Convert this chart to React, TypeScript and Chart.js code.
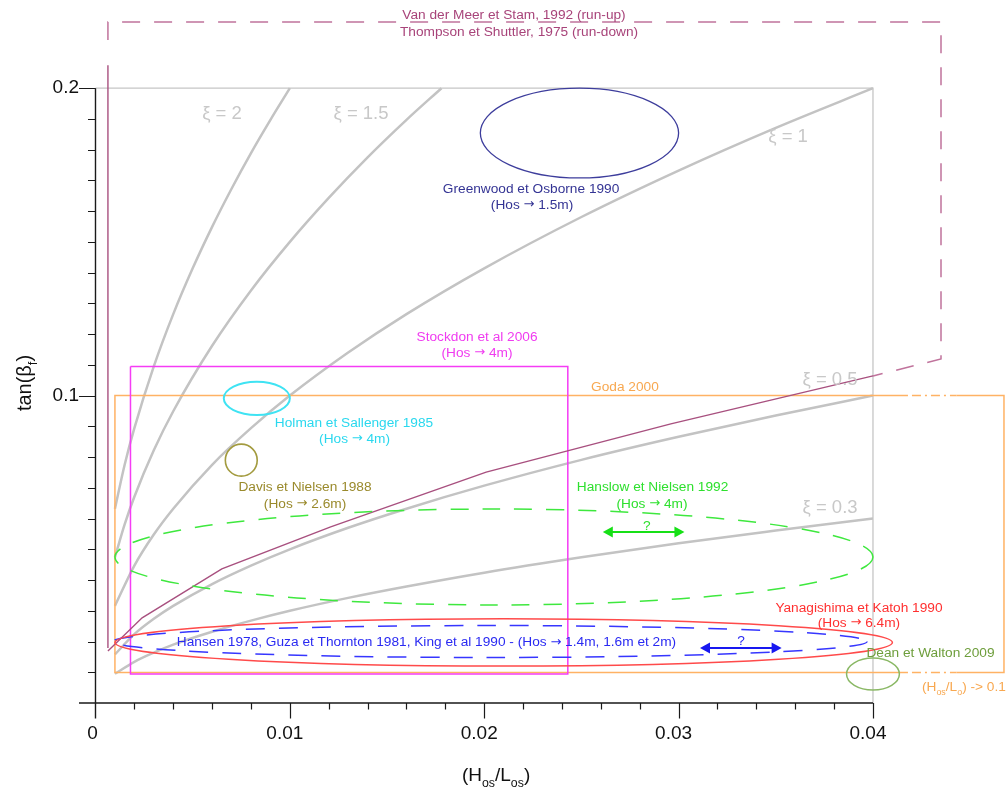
import React, { useEffect, useRef } from 'react';
import { Chart, registerables } from 'chart.js';

Chart.register(...registerables);

// ---- scale window (data units covering the whole canvas) ----
const X_MIN = -0.004913;
const X_MAX = 0.046947;
const Y_MIN = -0.029604;
const Y_MAX = 0.228692;

// ---- axis ticks ----
const xMajorTicks = [0, 0.01, 0.02, 0.03, 0.04];
const xTickLabels = ['0', '0.01', '0.02', '0.03', '0.04'];
const xMinorStep = 0.002;
const yMajorTicks = [0.1, 0.2];
const yTickLabels = ['0.1', '0.2'];
const yMinorStep = 0.01;

// ---- Iribarren number curves ----
const xiNames = ['ξ = 2', 'ξ = 1.5', 'ξ = 1', 'ξ = 0.5', 'ξ = 0.3'];
const xi2X = [0.001, 0.0015, 0.002, 0.003, 0.004, 0.005, 0.006, 0.007, 0.008, 0.009, 0.01];
const xi2Y = [0.0632, 0.0775, 0.0894, 0.1095, 0.1265, 0.1414, 0.1549, 0.1673, 0.1789, 0.1897, 0.2];
const xi15X = [0.001, 0.0015, 0.002, 0.003, 0.004, 0.006, 0.008, 0.01, 0.012, 0.014, 0.016, 0.0178];
const xi15Y = [0.0474, 0.0581, 0.0671, 0.0822, 0.0949, 0.1162, 0.1342, 0.15, 0.1643, 0.1775, 0.1897, 0.2];
const xiLowX = [0.001, 0.002, 0.003, 0.004, 0.006, 0.008, 0.01, 0.013, 0.016, 0.02, 0.025, 0.03, 0.035, 0.04];
const xi1Y = [0.0316, 0.0447, 0.0548, 0.0632, 0.0775, 0.0894, 0.1, 0.114, 0.1265, 0.1414, 0.1581, 0.1732, 0.1871, 0.2];
const xi05Y = [0.0158, 0.0224, 0.0274, 0.0316, 0.0387, 0.0447, 0.05, 0.057, 0.0632, 0.0707, 0.0791, 0.0866, 0.0935, 0.1];
const xi03Y = [0.0095, 0.0134, 0.0164, 0.019, 0.0232, 0.0268, 0.03, 0.0342, 0.0379, 0.0424, 0.0474, 0.052, 0.0561, 0.06];

// ---- Van der Meer / Thompson (run-up / run-down) ----
const runDownX = [0.00064, 0.0024, 0.0065, 0.0121, 0.0201, 0.0296, 0.04];
const runDownY = [0.0169, 0.0277, 0.0436, 0.0573, 0.0751, 0.0908, 0.1064];
const runUpX = [0.00064, 0.00064];
const runUpY = [0.0179, 0.2075];
const runBoxX = [0.00064, 0.00064, 0.0435, 0.0435, 0.04];
const runBoxY = [0.2157, 0.2215, 0.2215, 0.1119, 0.1064];

// ---- grey frame ----
const frameX = [0, 0.04, 0.04];
const frameY = [0.2, 0.2, 0];

// ---- Stockdon et al 2006 box ----
const stockX = [0.0018, 0.0243, 0.0243, 0.0018, 0.0018];
const stockY = [0.1095, 0.1095, 0.0094, 0.0094, 0.1095];

// ---- Goda 2000 box (with axis break) ----
const godaLeftX = [0.0418, 0.001, 0.001, 0.0418];
const godaLeftY = [0.1, 0.1, 0.0099, 0.0099];
const godaRightX = [0.0443, 0.04674, 0.04674, 0.0443];
const godaRightY = [0.1, 0.1, 0.0099, 0.0099];
const godaBreakX = [0.0418, 0.0443];
const godaBreakTopY = [0.1, 0.1];
const godaBreakBottomY = [0.0099, 0.0099];

// ---- ellipses (centre, half-width, half-height) ----
const ellipseNames = ['Greenwood', 'Holman', 'Davis', 'Hanslow', 'Hansen', 'Yanagishima', 'Dean'];
const ellipseCx = [0.0249, 0.0083, 0.0075, 0.0205, 0.0203, 0.021, 0.04];
const ellipseCy = [0.1854, 0.0991, 0.079, 0.0475, 0.02, 0.0197, 0.0094];
const ellipseRx = [0.0051, 0.0017, 0.00082, 0.0195, 0.0194, 0.02, 0.00136];
const ellipseRy = [0.0146, 0.0054, 0.0052, 0.0156, 0.0052, 0.0077, 0.0052];
const ellipseStyles = [
  { color: '#3d3d9c', width: 1.3, dash: [] as number[] },
  { color: '#3fe3f3', width: 2, dash: [] as number[] },
  { color: '#a39b3f', width: 1.6, dash: [] as number[] },
  { color: '#3ee83e', width: 1.5, dash: [18, 14] },
  { color: '#3636ff', width: 1.5, dash: [19, 14] },
  { color: '#ff4a4a', width: 1.5, dash: [] as number[] },
  { color: '#8ab865', width: 1.5, dash: [] as number[] },
];

// ---- double arrows ("?") ----
const arrowX1 = [0.0261, 0.0311];
const arrowX2 = [0.0303, 0.0353];
const arrowY = [0.0556, 0.0179];
const arrowColors = ['#16e016', '#1818f0'];

// ---- colours ----
const C_GREY = '#c3c3c3';
const C_MAUVE = '#a8507f';
const C_MAUVE_DASH = '#c0739c';
const C_MAGENTA = '#f53cf5';
const C_ORANGE = '#ffb264';

// ---- text annotations (anchor in data units) ----
type Part = [string, boolean?];
type Note = { parts: Part[]; x: number; y: number; color: string; size: number; align: 'center' | 'left' };
const NS = 13.7;
const notes: Note[] = [
  { parts: [['Van der Meer et Stam, 1992 (run-up)']], x: 0.02153, y: 0.2238, color: '#a8447a', size: NS, align: 'center' },
  { parts: [['Thompson et Shuttler, 1975 (run-down)']], x: 0.02179, y: 0.2183, color: '#a8447a', size: NS, align: 'center' },
  { parts: [['Greenwood et Osborne 1990']], x: 0.02241, y: 0.1672, color: '#343494', size: NS, align: 'center' },
  { parts: [['(Hos → 1.5m)']], x: 0.02246, y: 0.162, color: '#343494', size: NS, align: 'center' },
  { parts: [['Stockdon et al 2006']], x: 0.01963, y: 0.1191, color: '#f03cf0', size: NS, align: 'center' },
  { parts: [['(Hos → 4m)']], x: 0.01963, y: 0.1139, color: '#f03cf0', size: NS, align: 'center' },
  { parts: [['Goda 2000']], x: 0.02724, y: 0.1028, color: '#f8a850', size: NS, align: 'center' },
  { parts: [['Holman et Sallenger 1985']], x: 0.0133, y: 0.0911, color: '#2ad8ee', size: NS, align: 'center' },
  { parts: [['(Hos → 4m)']], x: 0.01333, y: 0.0859, color: '#2ad8ee', size: NS, align: 'center' },
  { parts: [['Davis et Nielsen 1988']], x: 0.01078, y: 0.0703, color: '#9a8a2c', size: NS, align: 'center' },
  { parts: [['(Hos → 2.6m)']], x: 0.01078, y: 0.0647, color: '#9a8a2c', size: NS, align: 'center' },
  { parts: [['Hanslow et Nielsen 1992']], x: 0.02866, y: 0.0703, color: '#2ee02e', size: NS, align: 'center' },
  { parts: [['(Hos → 4m)']], x: 0.02863, y: 0.0647, color: '#2ee02e', size: NS, align: 'center' },
  { parts: [['Hansen 1978, Guza et Thornton 1981, King et al 1990 - (Hos → 1.4m, 1.6m et 2m)']], x: 0.01703, y: 0.0198, color: '#2a2af2', size: NS, align: 'center' },
  { parts: [['Yanagishima et Katoh 1990']], x: 0.03928, y: 0.0309, color: '#ff3030', size: NS, align: 'center' },
  { parts: [['(Hos → 6.4m)']], x: 0.03928, y: 0.026, color: '#ff3030', size: NS, align: 'center' },
  { parts: [['Dean et Walton 2009']], x: 0.04296, y: 0.0163, color: '#6e9e3c', size: NS, align: 'center' },
  { parts: [['(H'], ['os', true], ['/L'], ['o', true], [') -> 0.1']], x: 0.04252, y: 0.0052, color: '#f8a850', size: NS, align: 'left' },
  { parts: [['?']], x: 0.02837, y: 0.0576, color: '#2ee02e', size: NS, align: 'center' },
  { parts: [['?']], x: 0.03321, y: 0.0202, color: '#2a2af2', size: NS, align: 'center' },
  { parts: [[xiNames[0]]], x: 0.00651, y: 0.1916, color: '#c8c8c8', size: 18.5, align: 'center' },
  { parts: [[xiNames[1]]], x: 0.01366, y: 0.1916, color: '#c8c8c8', size: 18.5, align: 'center' },
  { parts: [[xiNames[2]]], x: 0.03563, y: 0.1841, color: '#c8c8c8', size: 18.5, align: 'center' },
  { parts: [[xiNames[3]]], x: 0.03779, y: 0.1051, color: '#c8c8c8', size: 18.5, align: 'center' },
  { parts: [[xiNames[4]]], x: 0.03779, y: 0.0634, color: '#c8c8c8', size: 18.5, align: 'center' },
];

const FONT = '"Liberation Sans", Arial, Helvetica, sans-serif';
const ARROW_FONT = '"DejaVu Sans", "Liberation Sans", sans-serif';
const font = (s: number, fam: string = FONT) => `${s}px ${fam}`;

const pts = (xs: number[], ys: number[]) => xs.map((x, i) => ({ x, y: ys[i] }));

// split each part so that the arrow glyph uses a font with a full-size arrow
type Run = { t: string; sub: boolean; fam: string };
function toRuns(parts: Part[]): Run[] {
  const runs: Run[] = [];
  parts.forEach(([t, sub]) => {
    const pieces = t.split('→');
    pieces.forEach((p, i) => {
      if (p) runs.push({ t: p, sub: !!sub, fam: FONT });
      if (i < pieces.length - 1) runs.push({ t: '→', sub: !!sub, fam: ARROW_FONT });
    });
  });
  return runs;
}

function drawRich(ctx: CanvasRenderingContext2D, parts: Part[], x: number, y: number, size: number, align: 'center' | 'left') {
  const subSize = size * 0.65;
  const runs = toRuns(parts);
  const sizeOf = (r: Run) => (r.sub ? subSize : r.fam === ARROW_FONT ? size * 0.95 : size);
  const widths = runs.map((r) => {
    ctx.font = font(sizeOf(r), r.fam);
    return ctx.measureText(r.t).width;
  });
  const total = widths.reduce((a, b) => a + b, 0);
  let cx = align === 'center' ? x - total / 2 : x;
  ctx.textAlign = 'left';
  ctx.textBaseline = 'middle';
  runs.forEach((r, i) => {
    ctx.font = font(sizeOf(r), r.fam);
    ctx.fillText(r.t, cx, r.sub ? y + size * 0.38 : y);
    cx += widths[i];
  });
}

const overlayPlugin = {
  id: 'overlay',
  afterDatasetsDraw(chart: any) {
    const ctx: CanvasRenderingContext2D = chart.ctx;
    const xs = chart.scales.x;
    const ys = chart.scales.y;
    const px = (v: number) => xs.getPixelForValue(v);
    const py = (v: number) => ys.getPixelForValue(v);

    // ellipses
    ellipseNames.forEach((_, i) => {
      const st = ellipseStyles[i];
      const cx = px(ellipseCx[i]);
      const cy = py(ellipseCy[i]);
      const rx = Math.abs(px(ellipseCx[i] + ellipseRx[i]) - cx);
      const ry = Math.abs(py(ellipseCy[i] + ellipseRy[i]) - cy);
      ctx.save();
      ctx.beginPath();
      ctx.ellipse(cx, cy, rx, ry, 0, 0, Math.PI * 2);
      ctx.strokeStyle = st.color;
      ctx.lineWidth = st.width;
      ctx.setLineDash(st.dash);
      ctx.stroke();
      ctx.restore();
    });

    // double arrows
    arrowY.forEach((yv, i) => {
      const x1 = px(arrowX1[i]);
      const x2 = px(arrowX2[i]);
      const y = py(yv);
      ctx.save();
      ctx.strokeStyle = arrowColors[i];
      ctx.fillStyle = arrowColors[i];
      ctx.lineWidth = 2;
      ctx.beginPath();
      ctx.moveTo(x1 + 6, y);
      ctx.lineTo(x2 - 6, y);
      ctx.stroke();
      ctx.beginPath();
      ctx.moveTo(x1, y);
      ctx.lineTo(x1 + 10, y - 5.5);
      ctx.lineTo(x1 + 10, y + 5.5);
      ctx.closePath();
      ctx.fill();
      ctx.beginPath();
      ctx.moveTo(x2, y);
      ctx.lineTo(x2 - 10, y - 5.5);
      ctx.lineTo(x2 - 10, y + 5.5);
      ctx.closePath();
      ctx.fill();
      ctx.restore();
    });

    // text notes
    notes.forEach((n) => {
      ctx.save();
      ctx.fillStyle = n.color;
      drawRich(ctx, n.parts, px(n.x), py(n.y), n.size, n.align);
      ctx.restore();
    });

    // axes
    const x0 = px(0);
    const y0 = py(0);
    ctx.save();
    ctx.strokeStyle = '#1a1a1a';
    ctx.lineWidth = 1.4;
    ctx.beginPath();
    ctx.moveTo(x0 - 16.5, y0);
    ctx.lineTo(px(0.04), y0);
    ctx.moveTo(x0, py(0.2));
    ctx.lineTo(x0, y0 + 15.5);
    ctx.stroke();
    ctx.lineWidth = 1.2;
    ctx.beginPath();
    for (let v = xMinorStep; v <= 0.04 + 1e-9; v += xMinorStep) {
      const major = xMajorTicks.some((m) => Math.abs(m - v) < 1e-7);
      const x = Math.round(px(v)) + 0.5;
      ctx.moveTo(x, y0);
      ctx.lineTo(x, y0 + (major ? 15.5 : 6.5));
    }
    for (let v = yMinorStep; v <= 0.2 + 1e-9; v += yMinorStep) {
      const major = yMajorTicks.some((m) => Math.abs(m - v) < 1e-7);
      const y = Math.round(py(v)) + 0.5;
      ctx.moveTo(x0, y);
      ctx.lineTo(x0 - (major ? 16.5 : 7.5), y);
    }
    ctx.stroke();

    ctx.fillStyle = '#111';
    ctx.font = font(19);
    ctx.textBaseline = 'middle';
    ctx.textAlign = 'center';
    xMajorTicks.forEach((v, i) => {
      ctx.fillText(xTickLabels[i], px(v) - (i === 0 ? 3 : 5), y0 + 31);
    });
    ctx.textAlign = 'right';
    yMajorTicks.forEach((v, i) => {
      ctx.fillText(yTickLabels[i], x0 - 16.5, py(v));
    });

    // axis titles
    ctx.fillStyle = '#111';
    drawRich(ctx, [['(H'], ['os', true], ['/L'], ['os', true], [')']], px(0.02061), y0 + 73, 19, 'center');
    ctx.translate(x0 - 70, py(0.1041));
    ctx.rotate(-Math.PI / 2);
    drawRich(ctx, [['tan(β'], ['f', true], [')']], 0, 0, 20, 'center');
    ctx.restore();
  },
};

export default function App() {
  const ref = useRef<HTMLCanvasElement | null>(null);

  useEffect(() => {
    if (!ref.current) return;
    const line = (data: any, color: string, width: number, extra: any = {}) => ({
      data,
      showLine: true,
      borderColor: color,
      backgroundColor: color,
      borderWidth: width,
      pointRadius: 0,
      fill: false,
      tension: 0,
      ...extra,
    });
    const smooth = { cubicInterpolationMode: 'monotone' };
    const chart = new Chart(ref.current, {
      type: 'scatter',
      data: {
        datasets: [
          line(pts(runDownX, runDownY), C_MAUVE, 1.4, { label: 'Thompson et Shuttler, 1975 (run-down)' }),
          line(pts(runUpX, runUpY), C_MAUVE, 1.4, { label: 'Van der Meer et Stam, 1992 (run-up)' }),
          line(pts(runBoxX, runBoxY), C_MAUVE_DASH, 1.5, { borderDash: [18, 14], label: 'run-up limit' }),
          line(pts(stockX, stockY), C_MAGENTA, 1.5, { label: 'Stockdon et al 2006' }),
          line(pts(godaLeftX, godaLeftY), C_ORANGE, 1.5, { label: 'Goda 2000' }),
          line(pts(godaRightX, godaRightY), C_ORANGE, 1.5, { label: 'Goda 2000 (H/L → 0.1)' }),
          line(pts(godaBreakX, godaBreakTopY), C_ORANGE, 1.5, { borderDash: [9, 4, 2, 4], borderDashOffset: -4, label: 'break top' }),
          line(pts(godaBreakX, godaBreakBottomY), C_ORANGE, 1.5, { borderDash: [9, 4, 2, 4], borderDashOffset: -4, label: 'break bottom' }),
          line(pts(xi2X, xi2Y), C_GREY, 2.5, { ...smooth, label: xiNames[0] }),
          line(pts(xi15X, xi15Y), C_GREY, 2.5, { ...smooth, label: xiNames[1] }),
          line(pts(xiLowX, xi1Y), C_GREY, 2.5, { ...smooth, label: xiNames[2] }),
          line(pts(xiLowX, xi05Y), C_GREY, 2.5, { ...smooth, label: xiNames[3] }),
          line(pts(xiLowX, xi03Y), C_GREY, 2.5, { ...smooth, label: xiNames[4] }),
          line(pts(frameX, frameY), '#c6c6c6', 1.3, { label: 'frame' }),
        ],
      },
      options: {
        animation: false,
        responsive: false,
        devicePixelRatio: 1,
        layout: { padding: 0 },
        plugins: { legend: { display: false }, tooltip: { enabled: false }, title: { display: false } },
        scales: {
          x: { type: 'linear', min: X_MIN, max: X_MAX, display: false },
          y: { type: 'linear', min: Y_MIN, max: Y_MAX, display: false },
        },
      },
      plugins: [overlayPlugin],
    } as any);
    return () => chart.destroy();
  }, []);

  return (
    <div style={{ position: 'absolute', left: 0, top: 0, width: 1008, height: 794, background: '#fff' }}>
      <canvas ref={ref} width={1008} height={794} style={{ display: 'block' }} />
    </div>
  );
}
